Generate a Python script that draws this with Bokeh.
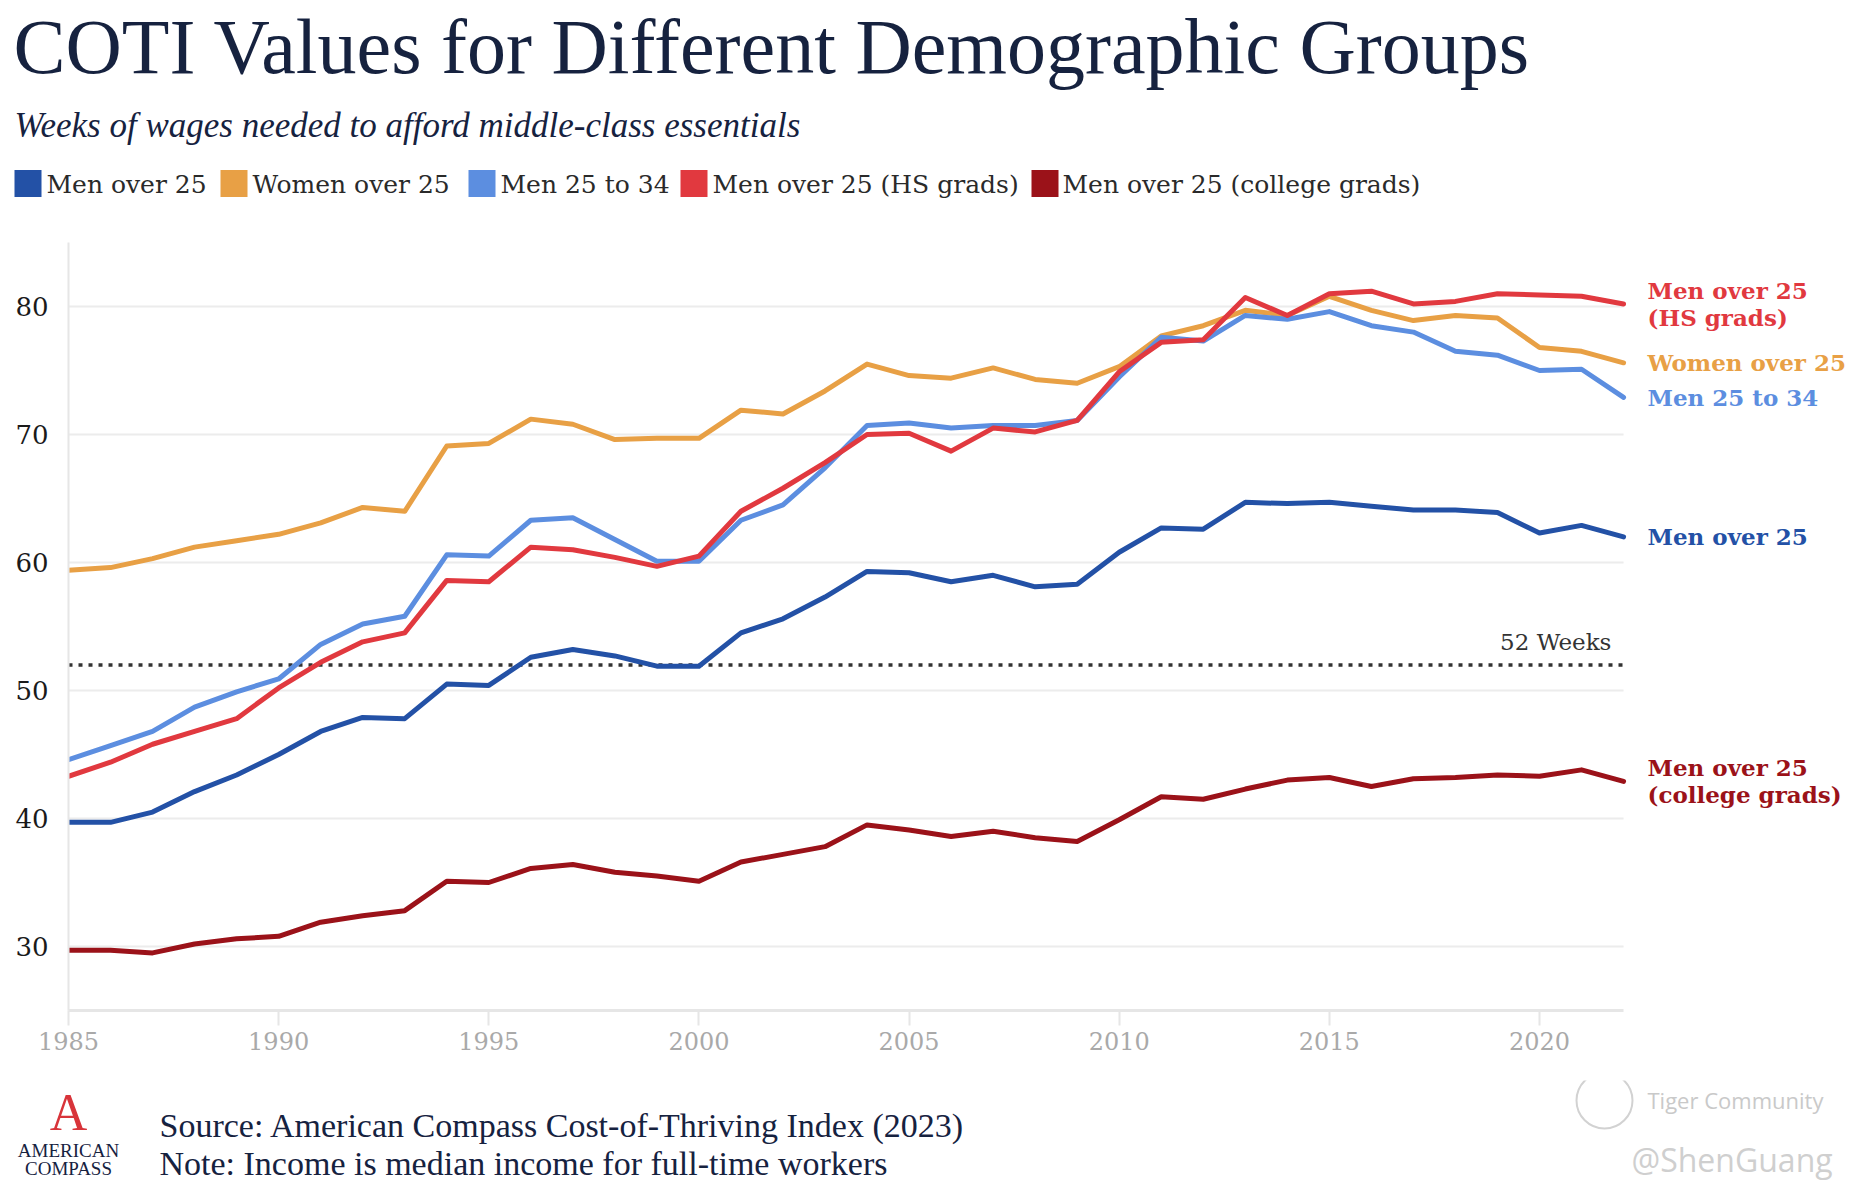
from bokeh.plotting import figure
from bokeh.layouts import column, row
from bokeh.models import Range1d, FixedTicker
from bokeh.core.properties import value
from bokeh.embed import file_html
from bokeh.resources import INLINE

# ---------------- data ----------------
years = list(range(1985, 2023))

men_over_25 = [39.7, 39.7, 40.5, 42.1, 43.4, 45.0, 46.8, 47.9, 47.8, 50.5,
               50.4, 52.6, 53.2, 52.7, 51.9, 51.9, 54.5, 55.6, 57.3, 59.3,
               59.2, 58.5, 59.0, 58.1, 58.3, 60.8, 62.7, 62.6, 64.7, 64.6,
               64.7, 64.4, 64.1, 64.1, 63.9, 62.3, 62.9, 62.0]
women_over_25 = [59.4, 59.6, 60.3, 61.2, 61.7, 62.2, 63.1, 64.3, 64.0, 69.1,
                 69.3, 71.2, 70.8, 69.6, 69.7, 69.7, 71.9, 71.6, 73.4, 75.5,
                 74.6, 74.4, 75.2, 74.3, 74.0, 75.3, 77.7, 78.5, 79.7, 79.3,
                 80.8, 79.7, 78.9, 79.3, 79.1, 76.8, 76.5, 75.6]
men_25_34 = [44.6, 45.7, 46.8, 48.7, 49.9, 50.9, 53.6, 55.2, 55.8, 60.6,
             60.5, 63.3, 63.5, 61.8, 60.1, 60.1, 63.3, 64.5, 67.4, 70.7,
             70.9, 70.5, 70.7, 70.7, 71.1, 74.5, 77.6, 77.3, 79.3, 79.0,
             79.6, 78.5, 78.0, 76.5, 76.2, 75.0, 75.1, 72.9]
men_hs = [43.3, 44.4, 45.8, 46.8, 47.8, 50.2, 52.2, 53.8, 54.5, 58.6,
          58.5, 61.2, 61.0, 60.4, 59.7, 60.5, 64.0, 65.8, 67.8, 70.0,
          70.1, 68.7, 70.5, 70.2, 71.1, 74.9, 77.2, 77.4, 80.7, 79.3,
          81.0, 81.2, 80.2, 80.4, 81.0, 80.9, 80.8, 80.2]
men_college = [29.7, 29.7, 29.5, 30.2, 30.6, 30.8, 31.9, 32.4, 32.8, 35.1,
               35.0, 36.1, 36.4, 35.8, 35.5, 35.1, 36.6, 37.2, 37.8, 39.5,
               39.1, 38.6, 39.0, 38.5, 38.2, 39.9, 41.7, 41.5, 42.3, 43.0,
               43.2, 42.5, 43.1, 43.2, 43.4, 43.3, 43.8, 42.9]

series_names = ["Men over 25", "Women over 25", "Men 25 to 34",
                "Men over 25 (HS grads)", "Men over 25 (college grads)"]
end_labels = ["Men over 25", "Women over 25", "Men 25 to 34",
              "Men over 25\n(HS grads)", "Men over 25\n(college grads)"]
series_values = [men_over_25, women_over_25, men_25_34, men_hs, men_college]
colors = ["#2351a6", "#e8a045", "#5c8ee0", "#e1393f", "#9b1219"]

threshold = 52
threshold_label = "52 Weeks"
y_ticks = [30, 40, 50, 60, 70, 80]
x_ticks = [1985, 1990, 1995, 2000, 2005, 2010, 2015, 2020]

title_text = "COTI Values for Different Demographic Groups"
subtitle_text = "Weeks of wages needed to afford middle-class essentials"
source_text = "Source: American Compass Cost-of-Thriving Index (2023)"
note_text = "Note: Income is median income for full-time workers"

NAVY = "#16223f"
W = 1858
SERIF = "Liberation Serif"
SERIF2 = "DejaVu Serif"


def blank(height):
    f = figure(width=W, height=height, x_range=Range1d(0, W), y_range=Range1d(height, 0),
               toolbar_location=None, output_backend="svg",
               x_axis_location=None, y_axis_location=None,
               min_border_left=0, min_border_right=0, min_border_top=0, min_border_bottom=0)
    f.outline_line_color = None
    f.xgrid.visible = False
    f.ygrid.visible = False
    f.title.visible = False
    return f


# ---------------- header ----------------
HH = 242
header = blank(HH)
header.text(x=[13], y=[46], text=[title_text], text_font=value(SERIF),
            text_font_size="78px", text_color=NAVY, text_baseline="middle",
            text_align="left")
header.text(x=[14], y=[125], text=[subtitle_text], text_font=value(SERIF),
            text_font_style="italic", text_font_size="35px", text_color=NAVY,
            text_baseline="middle", text_align="left")

leg_sq_left = [14, 220, 468, 680, 1031]
leg_txt_left = [46, 252, 500, 712, 1062]
leg_y = 183
header.rect(x=[v + 13.5 for v in leg_sq_left], y=[leg_y] * 5, width=27, height=27,
            fill_color=colors, line_color=None)
header.text(x=leg_txt_left, y=[leg_y + 1] * 5, text=series_names,
            text_font=value(SERIF2), text_font_size="25px", text_color="#2a2a2a",
            text_baseline="middle", text_align="left")

# ---------------- main plot ----------------
p = figure(width=W, height=838, x_range=Range1d(1985, 2027.59), y_range=Range1d(25, 85),
           toolbar_location=None, output_backend="svg",
           min_border_left=68, min_border_right=0, min_border_top=0, min_border_bottom=70)
p.outline_line_color = None
p.xgrid.visible = False
p.ygrid.visible = False
p.title.visible = False

p.segment(x0=[years[0]] * len(y_ticks), y0=y_ticks, x1=[years[-1]] * len(y_ticks), y1=y_ticks,
          line_color="#ececec", line_width=2)

p.segment(x0=[years[0]], y0=[threshold], x1=[years[-1]], y1=[threshold],
          line_color="#333333", line_width=3.5, line_dash="4 6")
p.text(x=[years[-1] - 0.29], y=[threshold + 0.8], text=[threshold_label],
       text_font=value(SERIF2), text_font_size="23px", text_color="#333333",
       text_align="right", text_baseline="bottom")

for vals, c in zip(series_values, colors):
    p.line(years, vals, line_color=c, line_width=5, line_join="round", line_cap="round")

p.text(x=[years[-1] + 0.57] * 5, y=[v[-1] for v in series_values], text=end_labels,
       text_font=value(SERIF2), text_font_style="bold", text_font_size="23px",
       text_color=colors, text_baseline="middle", text_align="left", text_line_height=1.0)

p.xaxis.ticker = FixedTicker(ticks=x_ticks)
p.yaxis.ticker = FixedTicker(ticks=y_ticks)
p.xaxis.bounds = (years[0], years[-1])
p.xaxis.axis_line_color = "#e6e6e6"
p.xaxis.axis_line_width = 3
p.xaxis.major_tick_line_color = "#e6e6e6"
p.xaxis.major_tick_line_width = 2
p.xaxis.major_tick_out = 15
p.xaxis.major_tick_in = 0
p.xaxis.minor_tick_line_color = None
p.xaxis.major_label_text_font = SERIF2
p.xaxis.major_label_text_font_size = "24px"
p.xaxis.major_label_text_color = "#a9a9a9"
p.xaxis.major_label_standoff = 6

p.yaxis.axis_line_color = "#e6e6e6"
p.yaxis.axis_line_width = 2
p.yaxis.major_tick_line_color = None
p.yaxis.minor_tick_line_color = None
p.yaxis.major_tick_out = 0
p.yaxis.major_tick_in = 0
p.yaxis.major_label_text_font = SERIF2
p.yaxis.major_label_text_font_size = "26px"
p.yaxis.major_label_text_color = "#1a1a1a"
p.yaxis.major_label_standoff = 20

# ---------------- footer ----------------
FH = 106
footer = blank(FH)
footer.text(x=[159, 159], y=[44.5, 82.7], text=[source_text, note_text],
            text_font=value(SERIF), text_font_size="34px", text_color=NAVY,
            text_baseline="middle", text_align="left")

footer.text(x=[68], y=[32], text=["A"], text_font=value(SERIF), text_font_size="52px",
            text_color="#d8343a", text_baseline="middle", text_align="center")
footer.text(x=[68, 68], y=[70, 88], text=["AMERICAN", "COMPASS"], text_font=value(SERIF),
            text_font_size="19px", text_color=NAVY, text_baseline="middle", text_align="center")

footer.circle(x=[1604], y=[20], radius=28, fill_color=None, line_color="#d2d2d2", line_width=2)
footer.text(x=[1647], y=[19], text=["Tiger Community"], text_font=value("Open Sans"),
            text_font_size="22px", text_color="#c9c9c9", text_baseline="middle", text_align="left")
footer.text(x=[1631], y=[79], text=["@ShenGuang"], text_font=value("Open Sans"),
            text_font_size="32px", text_color="#cfcfcf", text_baseline="middle", text_align="left")

layout = column(header, row(p), footer, spacing=0)
open("out.html", "w").write(file_html(layout, INLINE))
